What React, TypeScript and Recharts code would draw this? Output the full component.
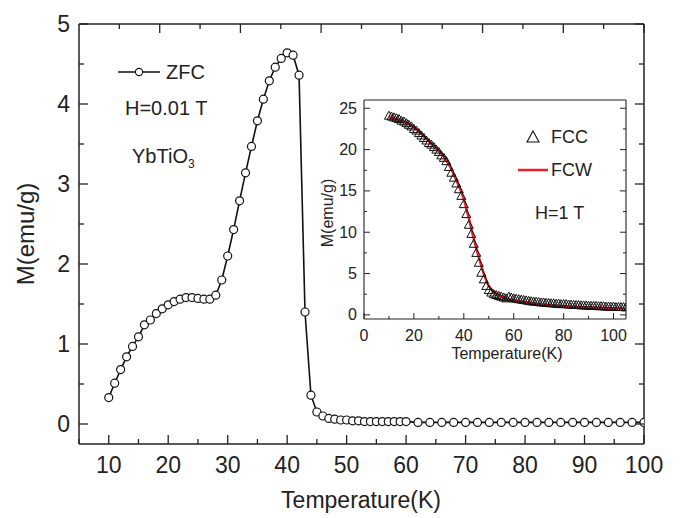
import React from 'react';
import { LineChart, Line, XAxis, YAxis } from 'recharts';

// ZFC, H = 0.01 T (main panel)
const zfcT = [
  10, 11, 12, 13, 14, 15, 16, 17, 18, 19, 20, 21, 22, 23, 24, 25, 26, 27, 28, 29,
  30, 31, 32, 33, 34, 35, 36, 37, 38, 39, 40, 41, 42, 43, 44, 45, 46, 47, 48, 49,
  50, 51, 52, 53, 54, 55, 56, 57, 58, 59, 60, 62, 64, 66, 68, 70, 72, 74, 76, 78,
  80, 82, 84, 86, 88, 90, 92, 94, 96, 98, 100,
];
const zfcM = [
  0.33, 0.51, 0.68, 0.84, 0.97, 1.09, 1.24, 1.3, 1.38, 1.44, 1.49, 1.53, 1.56, 1.58, 1.58, 1.57, 1.56, 1.56, 1.61, 1.8,
  2.1, 2.43, 2.79, 3.14, 3.47, 3.79, 4.06, 4.29, 4.46, 4.57, 4.64, 4.61, 4.36, 1.4, 0.36, 0.15, 0.1, 0.07, 0.06, 0.05,
  0.05, 0.04, 0.04, 0.03, 0.03, 0.03, 0.03, 0.03, 0.03, 0.03, 0.03, 0.02, 0.02, 0.02, 0.02, 0.02, 0.02, 0.02, 0.02, 0.02,
  0.02, 0.02, 0.02, 0.02, 0.02, 0.02, 0.02, 0.02, 0.02, 0.02, 0.02,
];

// FCC, H = 1 T (inset, triangles)
const fccT = [
  10, 11, 12, 13, 14, 15, 16, 17, 18, 19, 20, 21, 22, 23, 24, 25, 26, 27, 28, 29,
  30, 31, 32, 33, 34, 35, 36, 37, 38, 39, 40, 41, 42, 43, 44, 45, 46, 47, 48, 49,
  50, 51, 52, 53, 54, 55, 56, 57, 58, 59, 60, 61, 62, 63, 64, 65, 66, 67, 68, 69,
  70, 71, 72, 73, 74, 75, 76, 77, 78, 79, 80, 81, 82, 83, 84, 85, 86, 87, 88, 89,
  90, 91, 92, 93, 94, 95, 96, 97, 98, 99, 100, 101, 102, 103, 104, 105,
];
const fccM = [
  24.1, 24.0, 23.9, 23.8, 23.7, 23.5, 23.4, 23.2, 23.0, 22.8, 22.5, 22.3, 22.0, 21.7, 21.4, 21.1, 20.8, 20.6, 20.3, 20.0,
  19.7, 19.3, 19.0, 18.6, 17.9, 17.2, 16.6, 15.9, 15.2, 14.4, 13.4, 12.2, 10.9, 9.8, 8.6, 7.5, 6.3, 5.1, 4.3, 3.5,
  3.0, 2.7, 2.5, 2.4, 2.3, 2.2, 2.1, 2.0, 2.2, 2.1, 2.0, 1.95, 1.9, 1.85, 1.8, 1.75, 1.7, 1.65, 1.6, 1.6,
  1.55, 1.5, 1.5, 1.45, 1.45, 1.4, 1.4, 1.35, 1.35, 1.3, 1.3, 1.3, 1.25, 1.25, 1.2, 1.2, 1.2, 1.15, 1.15, 1.15,
  1.1, 1.1, 1.1, 1.1, 1.05, 1.05, 1.05, 1.0, 1.0, 1.0, 1.0, 0.95, 0.95, 0.95, 0.95, 0.9,
];

// FCW, H = 1 T (inset, red line)
const fcwT = [10, 12, 15, 18, 20, 22, 25, 28, 30, 32, 34, 36, 38, 40, 42, 44, 46, 48, 50, 52, 54, 56, 58, 60, 65, 70, 75, 80, 85, 90, 95, 100, 105];
const fcwM = [23.9, 23.8, 23.5, 23.1, 22.7, 22.2, 21.3, 20.4, 19.8, 19.1, 18.2, 17.0, 15.6, 14.0, 11.7, 9.2, 7.0, 5.0, 3.5, 2.8, 2.4, 2.1, 1.9, 1.75, 1.5, 1.3, 1.15, 1.05, 0.95, 0.9, 0.85, 0.8, 0.75];

const mainXTicks = [5, 10, 15, 20, 25, 30, 35, 40, 45, 50, 55, 60, 65, 70, 75, 80, 85, 90, 95, 100];
const mainYTicks = [0, 0.5, 1, 1.5, 2, 2.5, 3, 3.5, 4, 4.5, 5];
const insetXTicks = [0, 10, 20, 30, 40, 50, 60, 70, 80, 90, 100];
const insetYTicks = [0, 2.5, 5, 7.5, 10, 12.5, 15, 17.5, 20, 22.5, 25];

const zfcData = zfcT.map((t, i) => ({ t, m: zfcM[i] }));
const fccData = fccT.map((t, i) => ({ t, m: fccM[i] }));
const fcwData = fcwT.map((t, i) => ({ t, m: fcwM[i] }));

const INK = '#222';
const FONT = '"Liberation Sans", Arial, Helvetica, sans-serif';

type TickOpts = {
  side: 'bottom' | 'top' | 'left' | 'right';
  step: number;
  major: number;
  minor: number;
  width: number;
  fontSize?: number;
  gap?: number;
};

const makeTick = (o: TickOpts) => (p: any) => {
  const v = p.payload.value;
  const { x, y } = p;
  const isMajor = Math.abs(v / o.step - Math.round(v / o.step)) < 1e-6;
  const len = isMajor ? o.major : o.minor;
  let x2 = x;
  let y2 = y;
  if (o.side === 'bottom') y2 = y - len;
  if (o.side === 'top') y2 = y + len;
  if (o.side === 'left') x2 = x + len;
  if (o.side === 'right') x2 = x - len;
  let label = null;
  if (o.fontSize && isMajor) {
    const gap = o.gap ?? 0;
    if (o.side === 'bottom') {
      label = (
        <text x={x} y={y + gap} textAnchor="middle" dominantBaseline="central" fontSize={o.fontSize} fill={INK} fontFamily={FONT}>
          {v}
        </text>
      );
    } else if (o.side === 'left') {
      label = (
        <text x={x - gap} y={y} textAnchor="end" dominantBaseline="central" fontSize={o.fontSize} fill={INK} fontFamily={FONT}>
          {v}
        </text>
      );
    }
  }
  return (
    <g>
      <line x1={x} y1={y} x2={x2} y2={y2} stroke={INK} strokeWidth={o.width} />
      {label}
    </g>
  );
};

// open triangle marker for the FCC points
const triangle = (p: any) => {
  const { cx, cy, index } = p;
  if (cx == null || cy == null) return <g key={index} />;
  return (
    <path
      key={index}
      d={`M${cx},${cy - 4.5} L${cx + 4.5},${cy + 3.5} L${cx - 4.5},${cy + 3.5} Z`}
      fill="none"
      stroke="#111"
      strokeWidth={1}
    />
  );
};

export default function App() {
  const mainAxis = { stroke: INK, strokeWidth: 1.5 };
  const insetAxis = { stroke: INK, strokeWidth: 1.1 };
  return (
    <div style={{ position: 'fixed', left: 0, top: 0, width: 681, height: 518, background: '#fff' }}>
      <div style={{ position: 'absolute', left: 0, top: 0 }}>
        <LineChart width={681} height={518} data={zfcData} margin={{ top: 23, right: 36, left: 0, bottom: 0 }}>
          <XAxis
            xAxisId="b"
            dataKey="t"
            type="number"
            domain={[5, 100]}
            ticks={mainXTicks}
            interval={0}
            height={74}
            tickSize={0}
            tickMargin={0}
            axisLine={mainAxis}
            tick={makeTick({ side: 'bottom', step: 10, major: 9, minor: 5, width: 1.3, fontSize: 23, gap: 21 })}
            allowDataOverflow
          />
          <XAxis
            xAxisId="t"
            orientation="top"
            type="number"
            domain={[5, 100]}
            ticks={mainXTicks}
            interval={0}
            height={1}
            tickSize={0}
            tickMargin={0}
            axisLine={mainAxis}
            tick={makeTick({ side: 'top', step: 10, major: 9, minor: 5, width: 1.3 })}
            allowDataOverflow
          />
          <YAxis
            yAxisId="l"
            type="number"
            domain={[-0.25, 5]}
            ticks={mainYTicks}
            interval={0}
            width={79}
            tickSize={0}
            tickMargin={0}
            axisLine={mainAxis}
            tick={makeTick({ side: 'left', step: 1, major: 9, minor: 5, width: 1.3, fontSize: 23, gap: 9 })}
            allowDataOverflow
          />
          <YAxis
            yAxisId="r"
            orientation="right"
            type="number"
            domain={[-0.25, 5]}
            ticks={mainYTicks}
            interval={0}
            width={1}
            tickSize={0}
            tickMargin={0}
            axisLine={mainAxis}
            tick={makeTick({ side: 'right', step: 1, major: 9, minor: 5, width: 1.3 })}
            allowDataOverflow
          />
          <Line
            xAxisId="b"
            yAxisId="l"
            dataKey="m"
            type="linear"
            stroke="#111"
            strokeWidth={1.6}
            dot={{ r: 4, fill: '#fff', stroke: '#111', strokeWidth: 1.2 }}
            activeDot={false}
            isAnimationActive={false}
          />
        </LineChart>
      </div>

      <div style={{ position: 'absolute', left: 300, top: 90 }}>
        <LineChart width={340} height={290} margin={{ top: 9, right: 13, left: 0, bottom: 0 }}>
          <XAxis
            xAxisId="b"
            dataKey="t"
            type="number"
            domain={[0, 105]}
            ticks={insetXTicks}
            interval={0}
            height={61}
            tickSize={0}
            tickMargin={0}
            axisLine={insetAxis}
            tick={makeTick({ side: 'bottom', step: 20, major: 6, minor: 3, width: 1, fontSize: 16, gap: 16 })}
            allowDataOverflow
          />
          <XAxis
            xAxisId="t"
            orientation="top"
            type="number"
            domain={[0, 105]}
            ticks={insetXTicks}
            interval={0}
            height={1}
            tickSize={0}
            tickMargin={0}
            axisLine={insetAxis}
            tick={makeTick({ side: 'top', step: 20, major: 6, minor: 3, width: 1 })}
            allowDataOverflow
          />
          <YAxis
            yAxisId="l"
            type="number"
            domain={[-0.5, 26]}
            ticks={insetYTicks}
            interval={0}
            width={64}
            tickSize={0}
            tickMargin={0}
            axisLine={insetAxis}
            tick={makeTick({ side: 'left', step: 5, major: 6, minor: 3, width: 1, fontSize: 16, gap: 7 })}
            allowDataOverflow
          />
          <YAxis
            yAxisId="r"
            orientation="right"
            type="number"
            domain={[-0.5, 26]}
            ticks={insetYTicks}
            interval={0}
            width={1}
            tickSize={0}
            tickMargin={0}
            axisLine={insetAxis}
            tick={makeTick({ side: 'right', step: 5, major: 6, minor: 3, width: 1 })}
            allowDataOverflow
          />
          <Line
            xAxisId="b"
            yAxisId="l"
            data={fccData}
            dataKey="m"
            type="linear"
            stroke="none"
            dot={triangle}
            activeDot={false}
            isAnimationActive={false}
          />
          <Line
            xAxisId="b"
            yAxisId="l"
            data={fcwData}
            dataKey="m"
            type="monotone"
            stroke="#e8202a"
            strokeWidth={2.5}
            dot={false}
            activeDot={false}
            isAnimationActive={false}
          />
        </LineChart>
      </div>

      <svg
        width={681}
        height={518}
        style={{ position: 'absolute', left: 0, top: 0, pointerEvents: 'none' }}
        fontFamily={FONT}
        fill={INK}
      >
        {/* main panel titles */}
        <text x={361} y={500} textAnchor="middle" dominantBaseline="central" fontSize={23}>
          Temperature(K)
        </text>
        <text x={25} y={234} textAnchor="middle" dominantBaseline="central" fontSize={24} transform="rotate(-90 25 234)">
          M(emu/g)
        </text>

        {/* main legend */}
        <line x1={118} y1={72} x2={160} y2={72} stroke="#111" strokeWidth={1.6} />
        <circle cx={139} cy={72} r={3.6} fill="#fff" stroke="#111" strokeWidth={1.1} />
        <text x={166} y={72} dominantBaseline="central" fontSize={20}>ZFC</text>
        <text x={125} y={108} dominantBaseline="central" fontSize={20}>H=0.01 T</text>
        <text x={132} y={156} dominantBaseline="central" fontSize={20}>
          YbTiO<tspan fontSize={12} dy={8}>3</tspan>
        </text>

        {/* inset titles */}
        <text x={507} y={353} textAnchor="middle" dominantBaseline="central" fontSize={16}>
          Temperature(K)
        </text>
        <text x={327} y={213} textAnchor="middle" dominantBaseline="central" fontSize={16} transform="rotate(-90 327 213)">
          M(emu/g)
        </text>

        {/* inset legend */}
        <path d="M533,131 L539,142 L527,142 Z" fill="none" stroke="#111" strokeWidth={1.1} />
        <text x={551} y={137} dominantBaseline="central" fontSize={18}>FCC</text>
        <line x1={518} y1={170} x2={548} y2={170} stroke="#e8202a" strokeWidth={2.5} />
        <text x={551} y={170} dominantBaseline="central" fontSize={18}>FCW</text>
        <text x={535} y={213} dominantBaseline="central" fontSize={18}>H=1 T</text>
      </svg>
    </div>
  );
}
